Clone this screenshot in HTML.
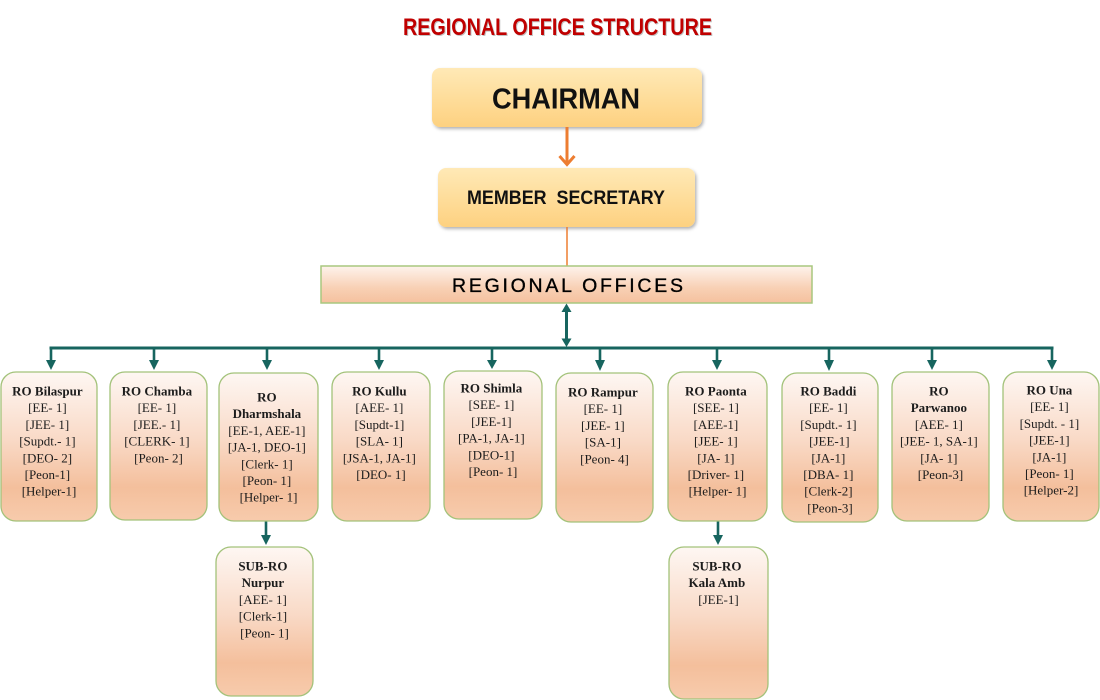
<!DOCTYPE html>
<html>
<head>
<meta charset="utf-8">
<style>
html,body{margin:0;padding:0;background:#fff;}
svg{display:block;}
.t{font-family:"Liberation Serif",serif;font-size:13px;fill:#1c1c1c;text-anchor:middle;}
.b{font-weight:bold;}
</style>
</head>
<body>
<svg width="1100" height="700" viewBox="0 0 1100 700" xmlns="http://www.w3.org/2000/svg">
<defs>
  <linearGradient id="ro" x1="0" y1="0" x2="0" y2="1">
    <stop offset="0" stop-color="#fef7f3"/>
    <stop offset="0.45" stop-color="#f9dac7"/>
    <stop offset="0.78" stop-color="#f4bf9c"/>
    <stop offset="1" stop-color="#f7cbac"/>
  </linearGradient>
  <linearGradient id="rg" x1="0" y1="0" x2="0" y2="1">
    <stop offset="0" stop-color="#fef3ec"/>
    <stop offset="0.6" stop-color="#f8d0b4"/>
    <stop offset="1" stop-color="#f5c19e"/>
  </linearGradient>
  <linearGradient id="yl" x1="0" y1="0" x2="0" y2="1">
    <stop offset="0" stop-color="#ffe9b6"/>
    <stop offset="1" stop-color="#fdd180"/>
  </linearGradient>
  <filter id="sh" x="-10%" y="-20%" width="120%" height="150%">
    <feDropShadow dx="1.5" dy="2" stdDeviation="1.5" flood-color="#000" flood-opacity="0.3"/>
  </filter>
</defs>

<!-- Title -->
<text x="558.5" y="36" font-family="'Liberation Sans',sans-serif" font-weight="bold" font-size="24" fill="#888" opacity="0.5" text-anchor="middle" textLength="309" lengthAdjust="spacingAndGlyphs">REGIONAL OFFICE STRUCTURE</text>
<text x="557.5" y="35" font-family="'Liberation Sans',sans-serif" font-weight="bold" font-size="24" fill="#c00000" text-anchor="middle" textLength="309" lengthAdjust="spacingAndGlyphs">REGIONAL OFFICE STRUCTURE</text>

<!-- Chairman -->
<rect x="432" y="68" width="270" height="59" rx="8" fill="url(#yl)" filter="url(#sh)"/>
<text x="566" y="108.5" font-family="'Liberation Sans',sans-serif" font-weight="bold" font-size="29" fill="#111" text-anchor="middle" textLength="148" lengthAdjust="spacingAndGlyphs">CHAIRMAN</text>

<!-- orange arrow -->
<line x1="567" y1="127" x2="567" y2="164" stroke="#ed7d31" stroke-width="3"/>
<polyline points="559.5,156 567,164.5 574.5,156" fill="none" stroke="#ed7d31" stroke-width="3"/>

<!-- Member Secretary -->
<rect x="438" y="168" width="257" height="59" rx="8" fill="url(#yl)" filter="url(#sh)"/>
<text x="566" y="204" font-family="'Liberation Sans',sans-serif" font-weight="bold" font-size="19" fill="#111" text-anchor="middle" textLength="198" lengthAdjust="spacingAndGlyphs">MEMBER&#160;&#160;SECRETARY</text>

<line x1="567" y1="227" x2="567" y2="266" stroke="#ed7d31" stroke-width="1.5"/>

<!-- Regional offices -->
<rect x="321" y="266" width="491" height="37" fill="url(#rg)" stroke="#a9c77f" stroke-width="1.5"/>
<text x="567.5" y="292" font-family="'Liberation Sans',sans-serif" font-size="19.5" fill="#000" stroke="#000" stroke-width="0.35" text-anchor="middle" textLength="231" lengthAdjust="spacing">REGIONAL OFFICES</text>

<!-- double arrow -->
<g fill="#17655f" stroke="#17655f">
  <line x1="566.5" y1="310" x2="566.5" y2="341" stroke-width="3"/>
  <polygon points="566.5,303.5 561.5,312 571.5,312" stroke="none"/>
  <polygon points="566.5,347 561.5,338.5 571.5,338.5" stroke="none"/>
  <!-- horizontal bus -->
  <line x1="49.5" y1="348" x2="1053.5" y2="348" stroke-width="3"/>
  <line x1="51" y1="347" x2="51" y2="362" stroke-width="2.6"/>
  <line x1="154" y1="347" x2="154" y2="362" stroke-width="2.6"/>
  <line x1="267" y1="347" x2="267" y2="362" stroke-width="2.6"/>
  <line x1="379" y1="347" x2="379" y2="362" stroke-width="2.6"/>
  <line x1="492" y1="347" x2="492" y2="362" stroke-width="2.6"/>
  <line x1="600" y1="347" x2="600" y2="362" stroke-width="2.6"/>
  <line x1="717" y1="347" x2="717" y2="362" stroke-width="2.6"/>
  <line x1="829" y1="347" x2="829" y2="362" stroke-width="2.6"/>
  <line x1="932" y1="347" x2="932" y2="362" stroke-width="2.6"/>
  <line x1="1052" y1="347" x2="1052" y2="362" stroke-width="2.6"/>
  <g stroke="none">
    <polygon points="46,360 56,360 51,370"/>
    <polygon points="149,360 159,360 154,370"/>
    <polygon points="262,360 272,360 267,370"/>
    <polygon points="374,360 384,360 379,370"/>
    <polygon points="487,360 497,360 492,369"/>
    <polygon points="595,360 605,360 600,371"/>
    <polygon points="712,360 722,360 717,370"/>
    <polygon points="824,360 834,360 829,371"/>
    <polygon points="927,360 937,360 932,370"/>
    <polygon points="1047,360 1057,360 1052,370"/>
  </g>
  <!-- sub arrows -->
  <line x1="266" y1="521" x2="266" y2="536" stroke-width="2.6"/>
  <polygon points="261,535 271,535 266,545" stroke="none"/>
  <line x1="718" y1="521" x2="718" y2="536" stroke-width="2.6"/>
  <polygon points="713,535 723,535 718,545" stroke="none"/>
</g>

<!-- RO boxes -->
<g fill="url(#ro)" stroke="#a3c27a" stroke-width="1.3">
  <rect x="1" y="372" width="96" height="149" rx="15"/>
  <rect x="110" y="372" width="97" height="148" rx="15"/>
  <rect x="219" y="373" width="99" height="148" rx="15"/>
  <rect x="332" y="372" width="98" height="149" rx="15"/>
  <rect x="444" y="371" width="98" height="148" rx="15"/>
  <rect x="556" y="373" width="97" height="149" rx="15"/>
  <rect x="668" y="372" width="99" height="149" rx="15"/>
  <rect x="782" y="373" width="96" height="149" rx="15"/>
  <rect x="892" y="372" width="97" height="149" rx="15"/>
  <rect x="1003" y="372" width="96" height="149" rx="15"/>
  <rect x="216" y="547" width="97" height="149" rx="15"/>
  <rect x="669" y="547" width="99" height="152" rx="15"/>
</g>

<!-- Bilaspur -->
<text class="t" y="395.5">
  <tspan x="49" class="b">RO Bilaspur</tspan>
  <tspan x="49" dy="16.7">[EE- 1]</tspan>
  <tspan x="49" dy="16.7">[JEE- 1]</tspan>
  <tspan x="49" dy="16.7">[Supdt.- 1]</tspan>
  <tspan x="49" dy="16.7">[DEO- 2]</tspan>
  <tspan x="49" dy="16.7">[Peon-1]</tspan>
  <tspan x="49" dy="16.7">[Helper-1]</tspan>
</text>
<!-- Chamba -->
<text class="t" y="395.5">
  <tspan x="158.5" class="b">RO Chamba</tspan>
  <tspan x="158.5" dy="16.7">[EE- 1]</tspan>
  <tspan x="158.5" dy="16.7">[JEE.- 1]</tspan>
  <tspan x="158.5" dy="16.7">[CLERK- 1]</tspan>
  <tspan x="158.5" dy="16.7">[Peon- 2]</tspan>
</text>
<!-- Dharmshala -->
<text class="t" y="401.5">
  <tspan x="268.5" class="b">RO</tspan>
  <tspan x="268.5" dy="16.7" class="b">Dharmshala</tspan>
  <tspan x="268.5" dy="16.7">[EE-1, AEE-1]</tspan>
  <tspan x="268.5" dy="16.7">[JA-1, DEO-1]</tspan>
  <tspan x="268.5" dy="16.7">[Clerk- 1]</tspan>
  <tspan x="268.5" dy="16.7">[Peon- 1]</tspan>
  <tspan x="268.5" dy="16.7">[Helper- 1]</tspan>
</text>
<!-- Kullu -->
<text class="t" y="395.5">
  <tspan x="381" class="b">RO Kullu</tspan>
  <tspan x="381" dy="16.7">[AEE- 1]</tspan>
  <tspan x="381" dy="16.7">[Supdt-1]</tspan>
  <tspan x="381" dy="16.7">[SLA- 1]</tspan>
  <tspan x="381" dy="16.7">[JSA-1, JA-1]</tspan>
  <tspan x="381" dy="16.7">[DEO- 1]</tspan>
</text>
<!-- Shimla -->
<text class="t" y="392.5">
  <tspan x="493" class="b">RO Shimla</tspan>
  <tspan x="493" dy="16.7">[SEE- 1]</tspan>
  <tspan x="493" dy="16.7">[JEE-1]</tspan>
  <tspan x="493" dy="16.7">[PA-1, JA-1]</tspan>
  <tspan x="493" dy="16.7">[DEO-1]</tspan>
  <tspan x="493" dy="16.7">[Peon- 1]</tspan>
</text>
<!-- Rampur -->
<text class="t" y="396.5">
  <tspan x="604.5" class="b">RO Rampur</tspan>
  <tspan x="604.5" dy="16.7">[EE- 1]</tspan>
  <tspan x="604.5" dy="16.7">[JEE- 1]</tspan>
  <tspan x="604.5" dy="16.7">[SA-1]</tspan>
  <tspan x="604.5" dy="16.7">[Peon- 4]</tspan>
</text>
<!-- Paonta -->
<text class="t" y="395.5">
  <tspan x="717.5" class="b">RO Paonta</tspan>
  <tspan x="717.5" dy="16.7">[SEE- 1]</tspan>
  <tspan x="717.5" dy="16.7">[AEE-1]</tspan>
  <tspan x="717.5" dy="16.7">[JEE- 1]</tspan>
  <tspan x="717.5" dy="16.7">[JA- 1]</tspan>
  <tspan x="717.5" dy="16.7">[Driver- 1]</tspan>
  <tspan x="717.5" dy="16.7">[Helper- 1]</tspan>
</text>
<!-- Baddi -->
<text class="t" y="395.5">
  <tspan x="830" class="b">RO Baddi</tspan>
  <tspan x="830" dy="16.7">[EE- 1]</tspan>
  <tspan x="830" dy="16.7">[Supdt.- 1]</tspan>
  <tspan x="831" dy="16.7">[JEE-1]</tspan>
  <tspan x="830" dy="16.7">[JA-1]</tspan>
  <tspan x="830" dy="16.7">[DBA- 1]</tspan>
  <tspan x="830" dy="16.7">[Clerk-2]</tspan>
  <tspan x="830" dy="16.7">[Peon-3]</tspan>
</text>
<!-- Parwanoo -->
<text class="t" y="395.5">
  <tspan x="940.5" class="b">RO</tspan>
  <tspan x="940.5" dy="16.7" class="b">Parwanoo</tspan>
  <tspan x="940.5" dy="16.7">[AEE- 1]</tspan>
  <tspan x="940.5" dy="16.7">[JEE- 1, SA-1]</tspan>
  <tspan x="940.5" dy="16.7">[JA- 1]</tspan>
  <tspan x="940.5" dy="16.7">[Peon-3]</tspan>
</text>
<!-- Una -->
<text class="t" y="394.5">
  <tspan x="1051" class="b">RO Una</tspan>
  <tspan x="1051" dy="16.7">[EE- 1]</tspan>
  <tspan x="1051" dy="16.7">[Supdt. - 1]</tspan>
  <tspan x="1051" dy="16.7">[JEE-1]</tspan>
  <tspan x="1051" dy="16.7">[JA-1]</tspan>
  <tspan x="1051" dy="16.7">[Peon- 1]</tspan>
  <tspan x="1051" dy="16.7">[Helper-2]</tspan>
</text>
<!-- Nurpur -->
<text class="t" y="570.5">
  <tspan x="264.5" class="b">SUB-RO</tspan>
  <tspan x="264.5" dy="16.7" class="b">Nurpur</tspan>
  <tspan x="264.5" dy="16.7">[AEE- 1]</tspan>
  <tspan x="264.5" dy="16.7">[Clerk-1]</tspan>
  <tspan x="264.5" dy="16.7">[Peon- 1]</tspan>
</text>
<!-- Kala Amb -->
<text class="t" y="570.5">
  <tspan x="718.5" class="b">SUB-RO</tspan>
  <tspan x="718.5" dy="16.7" class="b">Kala Amb</tspan>
  <tspan x="718.5" dy="16.7">[JEE-1]</tspan>
</text>
</svg>
</body>
</html>
